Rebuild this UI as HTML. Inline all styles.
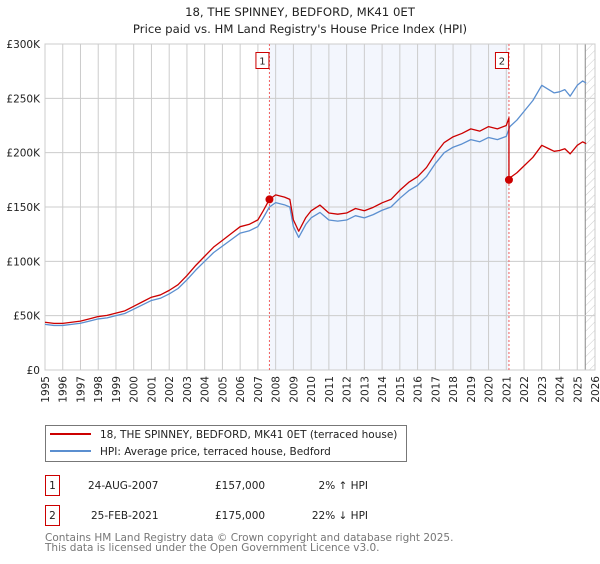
<!DOCTYPE html>
<html><head><meta charset="utf-8"><style>
body{margin:0;background:#fff;font-family:"DejaVu Sans","Liberation Sans",sans-serif;}
svg text{font-family:"DejaVu Sans","Liberation Sans",sans-serif;}
</style></head><body>
<svg id="chart" width="600" height="560" xmlns="http://www.w3.org/2000/svg">
<defs><pattern id="hatch" width="6" height="6" patternUnits="userSpaceOnUse" patternTransform="rotate(45)"><line x1="0" y1="0" x2="0" y2="6" stroke="#ccc" stroke-width="1"/></pattern></defs>
<text x="300" y="16" text-anchor="middle" font-size="11.7" fill="#222">18, THE SPINNEY, BEDFORD, MK41 0ET</text>
<text x="300" y="33" text-anchor="middle" font-size="11.7" fill="#222">Price paid vs. HM Land Registry's House Price Index (HPI)</text>
<g id="plot"></g>
<g>
<rect x="45.5" y="425.5" width="361" height="36" fill="#fff" stroke="#777"/>
<line x1="50" y1="434" x2="91" y2="434" stroke="#cc0000" stroke-width="2"/>
<text x="100" y="438" font-size="10.5" fill="#222">18, THE SPINNEY, BEDFORD, MK41 0ET (terraced house)</text>
<line x1="50" y1="451" x2="91" y2="451" stroke="#5b8fd0" stroke-width="2"/>
<text x="100" y="455" font-size="10.5" fill="#222">HPI: Average price, terraced house, Bedford</text>
</g>
<g>
<rect x="45.5" y="475.5" width="14" height="20" fill="#fff" stroke="#cc0000"/>
<text x="52.5" y="489" text-anchor="middle" font-size="10.5" fill="#222">1</text>
<text x="88" y="489" font-size="10.5" fill="#222">24-AUG-2007</text>
<text x="215" y="489" font-size="10.5" fill="#222">£157,000</text>
<text x="368" y="489" text-anchor="end" font-size="10.5" fill="#222">2% ↑ HPI</text>
</g>
<g>
<rect x="45.5" y="505.5" width="14" height="20" fill="#fff" stroke="#cc0000"/>
<text x="52.5" y="519" text-anchor="middle" font-size="10.5" fill="#222">2</text>
<text x="91" y="519" font-size="10.5" fill="#222">25-FEB-2021</text>
<text x="215" y="519" font-size="10.5" fill="#222">£175,000</text>
<text x="368" y="519" text-anchor="end" font-size="10.5" fill="#222">22% ↓ HPI</text>
</g>
<text x="45" y="541" font-size="10.5" fill="#777">Contains HM Land Registry data © Crown copyright and database right 2025.</text>
<text x="45" y="551" font-size="10.5" fill="#777">This data is licensed under the Open Government Licence v3.0.</text>
</svg>
<script>
const hpiYears=[1995,1995.5,1996,1996.5,1997,1997.5,1998,1998.5,1999,1999.5,2000,2000.5,2001,2001.5,2002,2002.5,2003,2003.5,2004,2004.5,2005,2005.5,2006,2006.5,2007,2007.3,2007.65,2008,2008.5,2008.8,2009,2009.3,2009.7,2010,2010.5,2011,2011.5,2012,2012.5,2013,2013.5,2014,2014.5,2015,2015.5,2016,2016.5,2017,2017.5,2018,2018.5,2019,2019.5,2020,2020.5,2021,2021.2,2021.6,2022,2022.5,2023,2023.4,2023.7,2024,2024.3,2024.6,2025,2025.3,2025.5];
const hpiValues=[42,41,41,42,43,45,47,48,50,52,56,60,64,66,70,75,83,92,100,108,114,120,126,128,132,140,150,154,152,150,132,122,134,140,145,138,137,138,142,140,143,147,150,158,165,170,178,190,200,205,208,212,210,214,212,215,224,230,238,248,262,258,255,256,258,252,262,266,264];
const saleYears=[2007.65,2021.15];
const salePrices=[157,175];
const yTicks=[0,50,100,150,200,250,300];
const yTickLabels=["£0","£50K","£100K","£150K","£200K","£250K","£300K"];
const xYears=[1995,1996,1997,1998,1999,2000,2001,2002,2003,2004,2005,2006,2007,2008,2009,2010,2011,2012,2013,2014,2015,2016,2017,2018,2019,2020,2021,2022,2023,2024,2025,2026];
const X0=45,X1=595,Y0=370,Y1=44;
const xs=y=>X0+(y-1995)/(2026-1995)*(X1-X0);
const ys=v=>Y0-v/300*(Y0-Y1);
const NS="http://www.w3.org/2000/svg";
const g=document.getElementById('plot');
function mk(t,a){const e=document.createElementNS(NS,t);for(const k in a)e.setAttribute(k,a[k]);g.appendChild(e);return e;}
function hpiAt(y){for(let i=1;i<hpiYears.length;i++){if(y<=hpiYears[i]){const t=(y-hpiYears[i-1])/(hpiYears[i]-hpiYears[i-1]);return hpiValues[i-1]+t*(hpiValues[i]-hpiValues[i-1]);}}return hpiValues[hpiValues.length-1];}
let sh=mk('rect',{x:xs(saleYears[0]),y:Y1,width:xs(saleYears[1])-xs(saleYears[0]),height:Y0-Y1,fill:'#f3f6fd'});


let ht=mk('rect',{x:xs(2025.45),y:Y1,width:X1-xs(2025.45),height:Y0-Y1,fill:'url(#hatch)'});


mk('line',{x1:xs(2025.45),y1:Y1,x2:xs(2025.45),y2:Y0,stroke:'#888','stroke-width':1});
xYears.forEach(yr=>{
 let l=mk('line',{x1:xs(yr),y1:Y1,x2:xs(yr),y2:Y0,stroke:'#ccc','stroke-width':1});
 
 
 let t=mk('text',{transform:`translate(${xs(yr)+4},376) rotate(-90)`,'text-anchor':'end','font-size':'10.5',fill:'#222'});
 t.textContent=yr;
 
 
});
yTicks.forEach((v,i)=>{
 let l=mk('line',{x1:X0,y1:ys(v),x2:X1,y2:ys(v),stroke:'#ccc','stroke-width':1});
 
 
 let t=mk('text',{x:X0-5,y:ys(v)+4,'text-anchor':'end','font-size':'10.5',fill:'#222'});
 t.textContent=yTickLabels[i];
 
 
});
mk('rect',{x:X0,y:Y1,width:X1-X0,height:Y0-Y1,fill:'none',stroke:'#ccc'});
saleYears.forEach((sy,i)=>{
 let l=mk('line',{x1:xs(sy),y1:Y1,x2:xs(sy),y2:Y0,stroke:'#f06060','stroke-width':1,'stroke-dasharray':'2,2'});
 
 
 let r=mk('rect',{x:xs(sy)-13.5,y:52.5,width:13,height:16,fill:'#fff',stroke:'#cc0000'});
 
 
 let t=mk('text',{x:xs(sy)-7,y:64.5,'text-anchor':'middle','font-size':'10',fill:'#222'});
 t.textContent=String(i+1);
 
 
});
let hp=mk('polyline',{points:hpiYears.map((y,i)=>xs(y)+','+ys(hpiValues[i])).join(' '),fill:'none',stroke:'#5b8fd0','stroke-width':1.3,'stroke-linejoin':'round'});


let pts=[];
hpiYears.forEach((y,i)=>{
 if(y<saleYears[1]){
   const r=salePrices[0]/hpiAt(saleYears[0]);
   pts.push(xs(y)+','+ys(hpiValues[i]*r));
 }
});
pts.push(xs(saleYears[1])+','+ys(hpiAt(saleYears[1])*salePrices[0]/hpiAt(saleYears[0])));
pts.push(xs(saleYears[1])+','+ys(salePrices[1]));
const r2=salePrices[1]/hpiAt(saleYears[1]);
hpiYears.forEach((y,i)=>{if(y>saleYears[1])pts.push(xs(y)+','+ys(hpiValues[i]*r2));});
let pl=mk('polyline',{points:pts.join(' '),fill:'none',stroke:'#cc0000','stroke-width':1.3,'stroke-linejoin':'round'});


saleYears.forEach((sy,i)=>{
 let c=mk('circle',{cx:xs(sy),cy:ys(salePrices[i]),r:4,fill:'#cc0000'});
 
 
});
</script>
</body></html>
